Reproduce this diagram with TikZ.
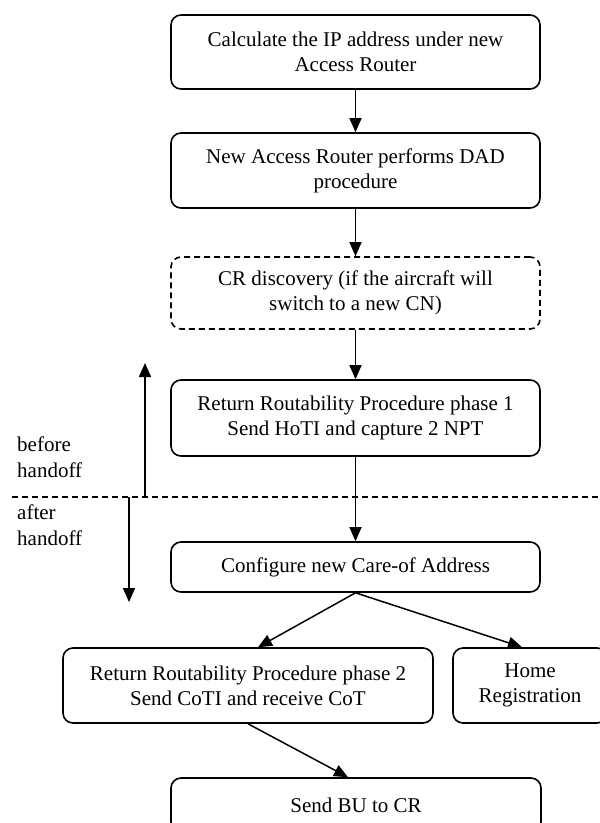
\documentclass[tikz,border=0pt]{standalone}
\usepackage{fontspec}
\setmainfont{Liberation Serif}
\usetikzlibrary{arrows.meta,calc}
\begin{document}
\begin{tikzpicture}[x=1pt,y=-1pt,
  box/.style={draw,line width=1.6pt,rounded corners=10pt,minimum width=369pt,align=center,font=\fontsize{21}{25}\selectfont,inner sep=0pt},
  dbox/.style={box,dash pattern=on 6pt off 4pt},
  arr/.style={line width=1.5pt,-{Triangle[length=14pt,width=12pt]}},
  divider/.style={line width=1.5pt,dash pattern=on 6pt off 4pt},
  lbl/.style={font=\fontsize{21}{25.5}\selectfont,align=left,inner sep=0pt}]
\clip (0,0) rectangle (600,823);
\node[box,minimum height=74pt] (b1) at (355.5,52) {Calculate the IP address under new\\Access Router};
\node[box,minimum height=75pt] (b2) at (355.5,170.5) {New Access Router performs DAD\\procedure};
\node[dbox,minimum height=72pt] (b3) at (355.5,293) {CR discovery (if the aircraft will\\switch to a new CN)};
\node[box,minimum height=76pt] (b4) at (355.5,418) {Return Routability Procedure phase 1\\Send HoTI and capture 2 NPT};
\node[box,minimum height=50pt] (b5) at (355.5,567) {Configure new Care-of Address};
\node[box,minimum height=75pt,minimum width=370pt] (b6) at (248,685.5) {Return Routability Procedure phase 2\\Send CoTI and receive CoT};
\node[box,minimum height=75pt,minimum width=154pt] (b7) at (530,685.5) {Home\\Registration};
\node[box,minimum height=54pt,minimum width=370pt] (b8) at (356,805) {Send BU to CR};

\draw[arr] (b1) -- (b2);
\draw[arr] (b2) -- (b3);
\draw[arr] (b3) -- (b4);
\draw[arr] (b4) -- (b5);
\draw[arr] (b5.south) -- ($(b6.north)+(10,0)$);
\draw[arr] (b5.south) -- ($(b7.north)+(-8,0)$);
\draw[arr] (b6.south) -- ($(b8.north)+(-8,0)$);

\coordinate (dl) at (12,497);
\coordinate (dr) at (600,497);
\draw[divider] (dl) -- (dr);
\coordinate (ua) at (145,497);
\coordinate (ub) at (145,363);
\draw[arr] (ua) -- (ub);
\coordinate (da) at (129,497);
\coordinate (db) at (129,602);
\draw[arr] (da) -- (db);

\node[lbl,anchor=base west] (lb) at (17,477) {before\\handoff};
\node[lbl,anchor=base west] (la) at (17,545) {after\\handoff};
\end{tikzpicture}
\end{document}
